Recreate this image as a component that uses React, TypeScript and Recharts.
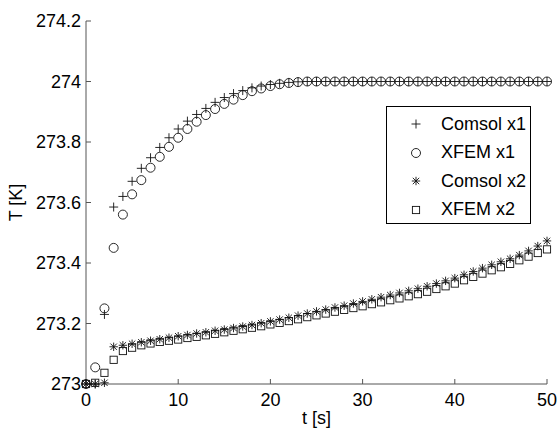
import React from 'react';
import { ScatterChart, Scatter, XAxis, YAxis, Label } from 'recharts';

// sample times [s]
const times = [
  0, 1, 2, 3, 4, 5, 6, 7, 8, 9, 10, 11, 12, 13, 14, 15, 16, 17, 18, 19, 20, 21, 22, 23, 24, 25,
  26, 27, 28, 29, 30, 31, 32, 33, 34, 35, 36, 37, 38, 39, 40, 41, 42, 43, 44, 45, 46, 47, 48, 49, 50,
];

// temperature [K] at probe x1
const comsolX1 = [
  273.0, 273.0, 273.23, 273.585, 273.62, 273.67, 273.713, 273.748, 273.782, 273.814, 273.843,
  273.869, 273.891, 273.911, 273.931, 273.947, 273.96, 273.97, 273.979, 273.985, 273.99, 273.994,
  273.997, 273.999, 274.0, 274.0, 274.0, 274.0, 274.0, 274.0, 274.0, 274.0, 274.0, 274.0, 274.0,
  274.0, 274.0, 274.0, 274.0, 274.0, 274.0, 274.0, 274.0, 274.0, 274.0, 274.0, 274.0, 274.0, 274.0,
  274.0, 274.0,
];
const xfemX1 = [
  273.0, 273.055, 273.25, 273.45, 273.56, 273.627, 273.674, 273.715, 273.751, 273.784, 273.814,
  273.843, 273.867, 273.889, 273.909, 273.926, 273.94, 273.955, 273.968, 273.977, 273.985, 273.991,
  273.995, 273.998, 274.0, 274.0, 274.0, 274.0, 274.0, 274.0, 274.0, 274.0, 274.0, 274.0, 274.0,
  274.0, 274.0, 274.0, 274.0, 274.0, 274.0, 274.0, 274.0, 274.0, 274.0, 274.0, 274.0, 274.0, 274.0,
  274.0, 274.0,
];

// temperature [K] at probe x2
const comsolX2 = [
  273.0, 273.0, 273.004, 273.123, 273.128, 273.133, 273.138, 273.143, 273.148, 273.153, 273.158,
  273.162, 273.167, 273.171, 273.176, 273.18, 273.185, 273.19, 273.195, 273.201, 273.207, 273.213,
  273.219, 273.226, 273.233, 273.24, 273.246, 273.253, 273.259, 273.266, 273.273, 273.28, 273.287,
  273.294, 273.301, 273.308, 273.315, 273.323, 273.332, 273.341, 273.35, 273.361, 273.372, 273.383,
  273.394, 273.404, 273.414, 273.426, 273.44, 273.456, 273.473,
];
const xfemX2 = [
  273.0, 273.004, 273.037, 273.08, 273.109, 273.12, 273.128, 273.134, 273.139, 273.143, 273.147,
  273.152, 273.156, 273.161, 273.166, 273.171, 273.176, 273.181, 273.186, 273.191, 273.197, 273.202,
  273.208, 273.214, 273.221, 273.227, 273.233, 273.239, 273.245, 273.251, 273.257, 273.264, 273.27,
  273.277, 273.283, 273.29, 273.297, 273.305, 273.314, 273.323, 273.332, 273.343, 273.354, 273.365,
  273.376, 273.386, 273.397, 273.409, 273.421, 273.433, 273.445,
];

const xTicks = [0, 10, 20, 30, 40, 50];
const yTicks = [273, 273.2, 273.4, 273.6, 273.8, 274, 274.2];

const toPoints = (vals: number[]) => times.map((t, i) => ({ t, v: vals[i] }));

const INK = '#111';
const SW = 0.9;

function PlusMark({ cx, cy }: any) {
  const r = 4.5;
  return (
    <g stroke={INK} strokeWidth={SW} fill="none">
      <line x1={cx - r} y1={cy} x2={cx + r} y2={cy} />
      <line x1={cx} y1={cy - r} x2={cx} y2={cy + r} />
    </g>
  );
}

function CircleMark({ cx, cy }: any) {
  return <circle cx={cx} cy={cy} r={4.5} stroke={INK} strokeWidth={SW} fill="none" />;
}

function StarMark({ cx, cy }: any) {
  const r = 4.2;
  const d = 3.2;
  return (
    <g stroke={INK} strokeWidth={SW} fill="none">
      <line x1={cx - r} y1={cy} x2={cx + r} y2={cy} />
      <line x1={cx} y1={cy - r} x2={cx} y2={cy + r} />
      <line x1={cx - d} y1={cy - d} x2={cx + d} y2={cy + d} />
      <line x1={cx - d} y1={cy + d} x2={cx + d} y2={cy - d} />
    </g>
  );
}

function SquareMark({ cx, cy }: any) {
  const h = 3.6;
  return <rect x={cx - h} y={cy - h} width={2 * h} height={2 * h} stroke={INK} strokeWidth={SW} fill="none" />;
}

const series = [
  { name: 'Comsol x1', values: comsolX1, Mark: PlusMark },
  { name: 'XFEM x1', values: xfemX1, Mark: CircleMark },
  { name: 'Comsol x2', values: comsolX2, Mark: StarMark },
  { name: 'XFEM x2', values: xfemX2, Mark: SquareMark },
];

const fmtY = (v: number) => String(Number(v.toFixed(1)));

function LegendBox() {
  return (
    <div
      style={{
        position: 'absolute',
        left: 386,
        top: 106,
        width: 145,
        height: 118,
        border: '1px solid #000',
        background: '#fff',
        boxSizing: 'border-box',
        paddingTop: 3,
      }}
    >
      {series.map(({ name, Mark }) => (
        <div key={name} style={{ display: 'flex', alignItems: 'center', height: 28.5 }}>
          <svg width={54} height={20} style={{ flex: 'none' }}>
            <Mark cx={29} cy={10} />
          </svg>
          <span style={{ fontSize: 18, color: '#000', whiteSpace: 'nowrap' }}>{name}</span>
        </div>
      ))}
    </div>
  );
}

export default function App() {
  return (
    <div style={{ position: 'absolute', left: 0, top: 0, width: 559, height: 429, fontFamily: '"Liberation Sans", Arial, sans-serif', background: '#fff' }}>
      <ScatterChart width={559} height={429} margin={{ top: 21, right: 12, bottom: 0, left: 0 }}>
        <XAxis
          type="number"
          dataKey="t"
          domain={[0, 50]}
          ticks={xTicks}
          height={45}
          tickSize={-5}
          tickMargin={14}
          axisLine={{ stroke: '#555' }}
          tickLine={{ stroke: '#555' }}
          tick={{ fill: '#000', fontSize: 18 }}
        >
          <Label value="t [s]" position="insideBottom" offset={5} fill="#000" fontSize={18} />
        </XAxis>
        <YAxis
          type="number"
          dataKey="v"
          domain={[273, 274.2]}
          ticks={yTicks}
          tickFormatter={fmtY}
          width={86}
          tickSize={-5}
          tickMargin={10}
          axisLine={{ stroke: '#555' }}
          tickLine={{ stroke: '#555' }}
          tick={{ fill: '#000', fontSize: 18 }}
        >
          <Label value="T [K]" angle={-90} position="center" dx={-27} fill="#000" fontSize={18} />
        </YAxis>
        {series.map(({ name, values, Mark }) => (
          <Scatter
            key={name}
            name={name}
            data={toPoints(values)}
            shape={(p: any) => <Mark cx={p.cx} cy={p.cy} />}
            isAnimationActive={false}
          />
        ))}
      </ScatterChart>
      <LegendBox />
    </div>
  );
}
